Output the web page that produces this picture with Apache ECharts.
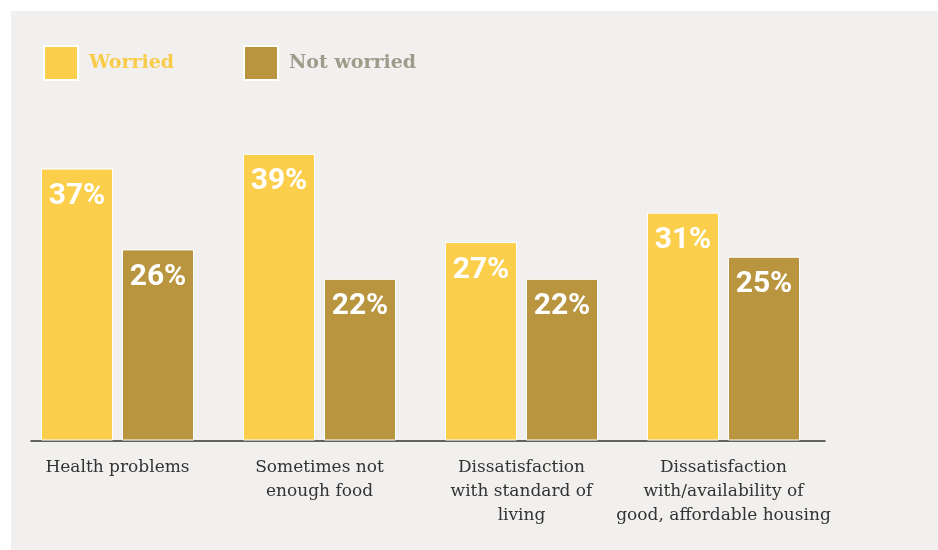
<!DOCTYPE html>
<html>
<head>
<meta charset="utf-8">
<script src="https://cdn.jsdelivr.net/npm/echarts@6/dist/echarts.min.js"></script>
<style>
  html, body { margin: 0; padding: 0; background: #ffffff; }
  #chart { position: absolute; left: 11px; top: 11px; width: 927px; height: 539px; }
</style>
</head>
<body>
<div id="chart"></div>
<script>
// Worry about personal circumstances, by topic
const categories = [
  'Health problems',
  'Sometimes not\nenough food',
  'Dissatisfaction\nwith standard of\nliving',
  'Dissatisfaction\nwith/availability of\ngood, affordable housing'
];
const seriesNames = ['Worried', 'Not worried'];
const worried = [37, 39, 27, 31];
const notWorried = [26, 22, 22, 25];

const COLORS = ['#fbce4c', '#b8953e'];
const LEGEND_TEXT = ['#f9cb49', '#9c9c8b'];
const SLAB = "'Roboto Slab', 'DejaVu Serif', serif";

const chart = echarts.init(document.getElementById('chart'), null, { renderer: 'canvas' });

const barLabel = {
  show: true,
  position: 'insideTop',
  distance: 13,
  color: '#ffffff',
  fontFamily: 'Roboto, sans-serif',
  fontWeight: 'bold',
  fontSize: 30,
  formatter: p => p.value + '%'
};

const legendBase = {
  top: 34,
  padding: 0,
  itemWidth: 34,
  itemHeight: 34,
  itemGap: 12,
  icon: 'rect',
  textStyle: {
    fontFamily: SLAB,
    fontWeight: 'bold',
    fontSize: 19,
    padding: [0, 0, 0, 6]
  }
};

chart.setOption({
  backgroundColor: '#f1f0ee',
  animation: false,
  legend: [
    Object.assign({}, legendBase, {
      left: 32,
      data: [{ name: seriesNames[0], textStyle: { color: LEGEND_TEXT[0] } }]
    }),
    Object.assign({}, legendBase, {
      left: 232,
      data: [{ name: seriesNames[1], textStyle: { color: LEGEND_TEXT[1] } }]
    })
  ],
  grid: [
    { left: 5.5, width: 808, top: 135.5, height: 294 },
    // baseline rule, slightly inset on the left
    { left: 20, width: 794, top: 135.5, height: 294 }
  ],
  xAxis: [
    {
      type: 'category',
      gridIndex: 0,
      data: categories,
      axisLine: { show: false },
      axisTick: { show: false },
      axisLabel: {
        interval: 0,
        margin: 15,
        color: '#333333',
        fontFamily: SLAB,
        fontSize: 17,
        lineHeight: 24,
        align: 'center'
      }
    },
    {
      type: 'value',
      gridIndex: 1,
      min: 0,
      max: 1,
      axisLine: { show: true, lineStyle: { color: '#333333', width: 1.5 } },
      axisTick: { show: false },
      axisLabel: { show: false },
      splitLine: { show: false }
    }
  ],
  yAxis: [
    { type: 'value', gridIndex: 0, min: 0, max: 40, show: false },
    { type: 'value', gridIndex: 1, min: 0, max: 1, show: false }
  ],
  series: [
    {
      name: seriesNames[0],
      type: 'bar',
      data: worried,
      barWidth: 72,
      barGap: '12.5%',
      itemStyle: { color: COLORS[0], borderColor: '#ffffff', borderWidth: 1 },
      label: barLabel
    },
    {
      name: seriesNames[1],
      type: 'bar',
      data: notWorried,
      barWidth: 72,
      barGap: '12.5%',
      itemStyle: { color: COLORS[1], borderColor: '#ffffff', borderWidth: 1 },
      label: barLabel
    }
  ]
});
</script>
</body>
</html>
